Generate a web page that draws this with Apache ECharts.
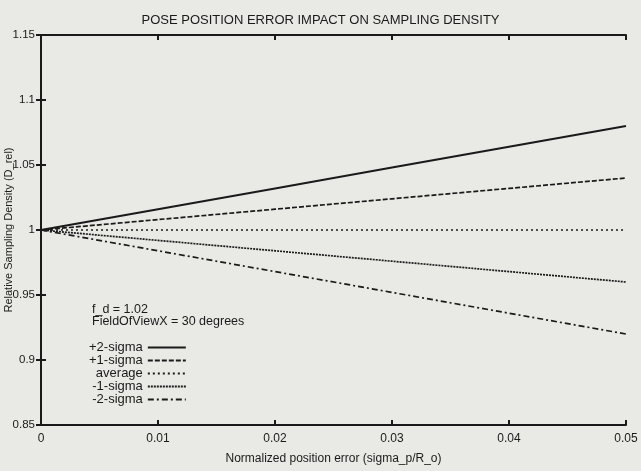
<!DOCTYPE html>
<html>
<head>
<meta charset="utf-8">
<script src="https://cdn.jsdelivr.net/npm/echarts@6/dist/echarts.min.js"></script>
<style>
  html, body { margin: 0; padding: 0; background: #e9e9e6; }
  #main { width: 641px; height: 471px; }
</style>
</head>
<body>
<div id="main"></div>
<script>
// x positions (normalized position error)
var xValues = [0, 0.01, 0.02, 0.03, 0.04, 0.05];
// relative sampling density per curve
var plus2Sigma = [1, 1.016, 1.032, 1.048, 1.064, 1.080];
var plus1Sigma = [1, 1.008, 1.016, 1.024, 1.032, 1.040];
var average = [1, 1, 1, 1, 1, 1];
var minus1Sigma = [1, 0.992, 0.984, 0.976, 0.968, 0.960];
var minus2Sigma = [1, 0.984, 0.968, 0.952, 0.936, 0.920];

var seriesNames = ['+2-sigma', '+1-sigma', 'average', '-1-sigma', '-2-sigma'];
var seriesData = [plus2Sigma, plus1Sigma, average, minus1Sigma, minus2Sigma];
var dashTypes = ['solid', [5, 2], [2, 3], [2, 1], [6, 3, 2, 3]];

var myChart = echarts.init(document.getElementById('main'));

var font = 'Liberation Sans, Arial, sans-serif';
var ink = '#1a1a1a';

function pairs(ys) {
    return xValues.map(function (x, i) { return [x, ys[i]]; });
}

var series = seriesNames.map(function (name, i) {
    return {
        name: name,
        type: 'line',
        symbol: 'none',
        data: pairs(seriesData[i]),
        lineStyle: { color: ink, width: i === 0 ? 2 : 1.7, type: dashTypes[i] },
        itemStyle: { color: ink },
        animation: false
    };
});

var option = {
    backgroundColor: '#e9e9e6',
    title: {
        text: 'POSE POSITION ERROR IMPACT ON SAMPLING DENSITY',
        left: 'center',
        top: 9,
        textStyle: { fontFamily: font, fontSize: 13, fontWeight: 'normal', color: ink }
    },
    grid: { left: 41, right: 15, top: 35, bottom: 46, outerBoundsMode: 'none', containLabel: false },
    legend: {
        orient: 'vertical',
        left: 89,
        top: 341,
        padding: 0,
        align: 'right',
        itemWidth: 38,
        itemHeight: 10,
        itemGap: 0,
        data: seriesNames,
        itemStyle: { opacity: 0 },
        textStyle: { fontFamily: font, fontSize: 13, lineHeight: 13, color: ink },
        selectedMode: false
    },
    xAxis: [{
        type: 'value',
        min: 0,
        max: 0.05,
        interval: 0.01,
        name: 'Normalized position error (sigma_p/R_o)',
        nameLocation: 'middle',
        nameGap: 28,
        nameTextStyle: { fontFamily: font, fontSize: 12, color: ink },
        axisLine: { lineStyle: { color: ink, width: 2 } },
        axisTick: { inside: true, length: 5, lineStyle: { color: ink, width: 2 } },
        axisLabel: { fontFamily: font, fontSize: 12, color: ink, margin: 8 },
        splitLine: { show: false }
    }, {
        type: 'value',
        position: 'top',
        min: 0,
        max: 0.05,
        interval: 0.01,
        axisLine: { lineStyle: { color: ink, width: 2 } },
        axisTick: { inside: true, length: 5, lineStyle: { color: ink, width: 2 } },
        axisLabel: { show: false },
        splitLine: { show: false }
    }],
    yAxis: [{
        type: 'value',
        min: 0.85,
        max: 1.15,
        interval: 0.05,
        name: 'Relative Sampling Density (D_rel)',
        nameLocation: 'middle',
        nameGap: 27,
        nameMoveOverlap: false,
        nameTextStyle: { fontFamily: font, fontSize: 11, color: ink },
        axisLine: { lineStyle: { color: ink, width: 2 } },
        axisTick: { inside: true, length: 5, lineStyle: { color: ink, width: 2 } },
        axisLabel: { fontFamily: font, fontSize: 11.5, color: ink, margin: 6 },
        splitLine: { show: false }
    }, {
        type: 'value',
        position: 'right',
        min: 0.85,
        max: 1.15,
        interval: 0.05,
        axisLine: { lineStyle: { color: ink, width: 2 } },
        axisTick: { inside: true, length: 5, lineStyle: { color: ink, width: 2 } },
        axisLabel: { show: false },
        splitLine: { show: false }
    }],
    graphic: [
        { type: 'text', left: 92, top: 303, style: { text: 'f_d = 1.02', font: '12.5px ' + font, fill: ink } },
        { type: 'text', left: 92, top: 315, style: { text: 'FieldOfViewX = 30 degrees', font: '12.5px ' + font, fill: ink } }
    ],
    series: series
};

myChart.setOption(option);
</script>
</body>
</html>
